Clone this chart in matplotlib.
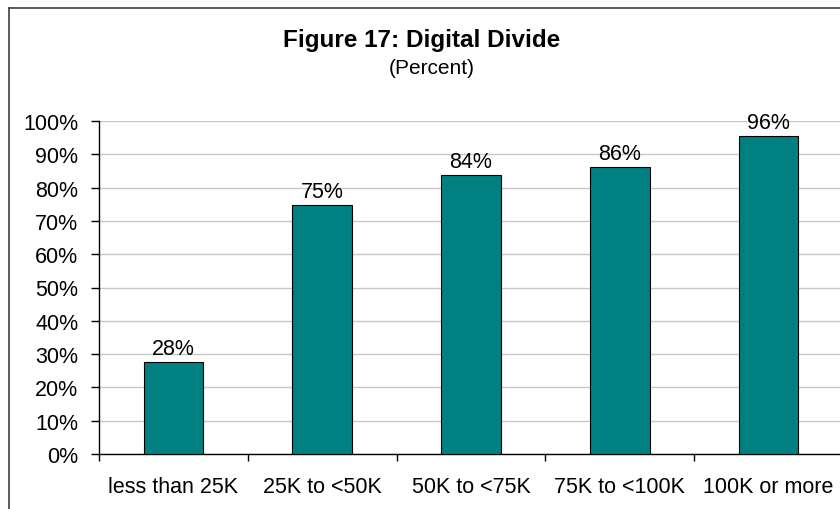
import matplotlib.pyplot as plt
import numpy as np
from matplotlib.lines import Line2D

categories = ["less than 25K", "25K to <50K", "50K to <75K", "75K to <100K", "100K or more"]
values = [27.6, 74.8, 83.8, 86.2, 95.5]
value_labels = ["28%", "75%", "84%", "86%", "96%"]
yticks = list(range(0, 101, 10))

plt.rcParams["font.family"] = ["Liberation Sans", "DejaVu Sans"]

W, H = 840, 510
fig = plt.figure(figsize=(W / 100, H / 100), dpi=100)
fig.patch.set_facecolor("white")

# outer chart frame (only left and top visible in the crop)
fig.add_artist(Line2D([9 / W, 9 / W], [0, 1 - 9 / H], color="#404040", lw=1.2))
fig.add_artist(Line2D([9 / W, 1], [1 - 9 / H, 1 - 9 / H], color="#404040", lw=1.2))

ax = fig.add_axes([99 / W, (H - 455) / H, 744 / W, 333 / H])
x = np.arange(len(categories))
ax.bar(x, values, width=0.4, color="#008080", edgecolor="black", linewidth=0.8, zorder=3)
for xi, v, lab in zip(x, values, value_labels):
    ax.text(xi, v + 1.0, lab, ha="center", va="bottom", fontsize=15.5, color="black")

ax.set_xlim(-0.5, len(categories) - 0.5)
ax.set_ylim(0, 100)
ax.set_yticks(yticks)
ax.set_yticklabels([f"{t}%" for t in yticks], fontsize=15.5)
ax.set_xticks(x)
ax.set_xticklabels(categories, fontsize=15.5)
ax.set_xticks(np.arange(len(categories) + 1) - 0.5, minor=True)
ax.tick_params(axis="x", which="major", length=0, pad=16)
ax.tick_params(axis="x", which="minor", length=5, width=1)
ax.tick_params(axis="y", length=6, width=1, pad=9)
ax.grid(axis="y", color="#c8c8c8", lw=1, zorder=0)
for s in ("top", "right"):
    ax.spines[s].set_visible(False)
for s in ("left", "bottom"):
    ax.spines[s].set_color("black")
    ax.spines[s].set_linewidth(1)

fig.text(422 / W, 1 - 41 / H, "Figure 17: Digital Divide", ha="center", va="center",
         fontsize=17.5, fontweight="bold")
fig.text(432 / W, 1 - 69 / H, "(Percent)", ha="center", va="center", fontsize=15)

fig.savefig("out.png", dpi=100)
